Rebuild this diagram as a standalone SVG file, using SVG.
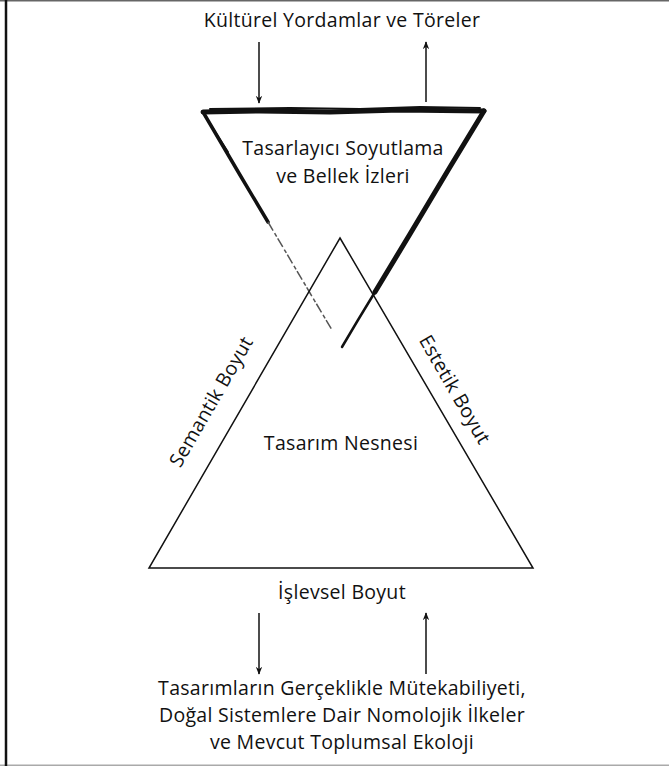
<svg xmlns="http://www.w3.org/2000/svg" width="669" height="766" viewBox="0 0 669 766">
<style>
text{font-family:"Open Sans","Liberation Sans",sans-serif;font-size:19.5px;letter-spacing:0.3px;fill:#111;text-anchor:middle}
.ln{stroke:#111;stroke-width:1.5;fill:none}
.brush{stroke:#111;fill:none;stroke-linecap:round;stroke-linejoin:round}
</style>
<defs>
<marker id="ah" viewBox="0 0 10 10" refX="9" refY="5" markerWidth="8" markerHeight="8" orient="auto" markerUnits="userSpaceOnUse">
<path d="M0,1 L10,5 L0,9 L3,5 Z" fill="#111"/>
</marker>
</defs>
<rect x="0" y="0" width="669" height="766" fill="#fff"/>
<line x1="0" y1="0.8" x2="669" y2="0.8" stroke="#666" stroke-width="1.6"/>
<line x1="0" y1="765.3" x2="669" y2="765.3" stroke="#aaa" stroke-width="1.4"/>
<line x1="6" y1="0" x2="6" y2="766" stroke="#111" stroke-width="2.5"/>

<g id="top-label"><text x="342" y="27">Kültürel Yordamlar ve Töreler</text></g>

<g id="abstraction">
<path class="brush" stroke-width="5" d="M203,112 L260,111 L330,112 L400,110 L484,111"/>
<path class="brush" stroke-width="2" d="M210,109 L290,108 L360,109 L420,107 L480,108"/>
<path class="brush" stroke-width="5" d="M484,111 L450,167 L410,234 L375,292"/>
<path class="brush" stroke-width="2.5" d="M375,292 L358,320 L342,347"/>
<path class="brush" stroke-width="3.5" d="M203,112 L240,175 L268,222"/>
<path class="brush" stroke-width="1.8" d="M205,116 L228,152"/>
<path stroke="#555" stroke-width="1.5" fill="none" stroke-dasharray="10 3 4 2" d="M268,222 L310,293 L332,330"/>
<text x="343" y="155">Tasarlayıcı Soyutlama</text>
<text x="343" y="183">ve Bellek İzleri</text>
</g>

<g id="design-object">
<path class="ln" d="M340,238 L533,568 L149,568 Z"/>
<text x="341" y="450">Tasarım Nesnesi</text>
</g>

<g id="dimension-labels">
<text transform="translate(217,405) rotate(-60)">Semantik Boyut</text>
<text transform="translate(449,393) rotate(60)">Estetik Boyut</text>
<text x="342" y="599">İşlevsel Boyut</text>
</g>

<g id="connectors">
<line class="ln" x1="259" y1="42" x2="259" y2="103" marker-end="url(#ah)"/>
<line class="ln" x1="426" y1="102" x2="426" y2="42" marker-end="url(#ah)"/>
<line class="ln" x1="259" y1="613" x2="259" y2="674" marker-end="url(#ah)"/>
<line class="ln" x1="426" y1="674" x2="426" y2="613" marker-end="url(#ah)"/>
</g>

<g id="reality">
<text x="342" y="695">Tasarımların Gerçeklikle Mütekabiliyeti,</text>
<text x="342" y="722">Doğal Sistemlere Dair Nomolojik İlkeler</text>
<text x="342" y="749">ve Mevcut Toplumsal Ekoloji</text>
</g>
</svg>
